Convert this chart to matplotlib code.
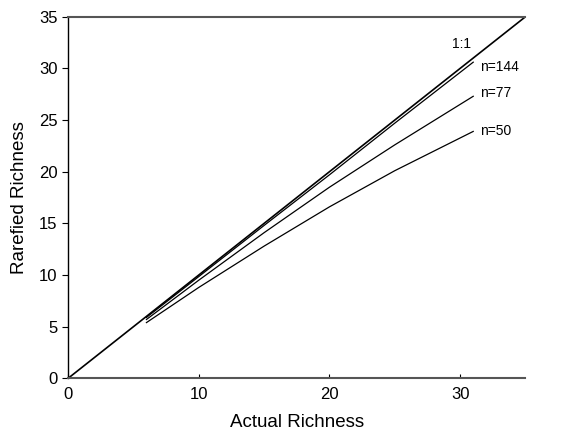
import matplotlib
matplotlib.use('Agg')
import matplotlib.pyplot as plt

matplotlib.rcParams['font.family'] = ['Liberation Sans', 'DejaVu Sans']

one_x = [0, 35]
one_y = [0, 35]
n144_x = [6, 10, 15, 20, 25, 31]
n144_y = [5.9, 9.85, 14.8, 19.7, 24.7, 30.6]
n77_x = [6, 10, 15, 20, 25, 31]
n77_y = [5.7, 9.5, 14.1, 18.5, 22.6, 27.3]
n50_x = [6, 10, 15, 20, 25, 31]
n50_y = [5.4, 8.8, 12.8, 16.6, 20.1, 23.9]

labels = ['1:1', 'n=144', 'n=77', 'n=50']
label_pos = [(29.4, 32.4), (31.5, 30.1), (31.5, 27.6), (31.5, 23.9)]

fig = plt.figure(figsize=(5.74, 4.4), dpi=100)
ax = fig.add_axes([0.1185, 0.14, 0.797, 0.822])

ax.plot(one_x, one_y, color='black', lw=1.2)
ax.plot(n144_x, n144_y, color='black', lw=0.9)
ax.plot(n77_x, n77_y, color='black', lw=0.9)
ax.plot(n50_x, n50_y, color='black', lw=0.9)

for lab, (x, y) in zip(labels, label_pos):
    ax.text(x, y, lab, fontsize=10, ha='left', va='center')

ax.set_xlim(0, 35)
ax.set_ylim(0, 35)
ax.set_xticks([0, 10, 20, 30])
ax.set_yticks([0, 5, 10, 15, 20, 25, 30, 35])

ax.spines['right'].set_visible(False)
ax.spines['top'].set_color('#555555')
ax.spines['top'].set_linewidth(1.5)
ax.spines['bottom'].set_color('#555555')
ax.spines['bottom'].set_linewidth(1.5)
ax.spines['left'].set_linewidth(1.0)

ax.tick_params(axis='y', direction='out', length=4, labelsize=12)
ax.tick_params(axis='x', direction='in', length=3, labelsize=12, pad=6)

ax.set_xlabel('Actual Richness', fontsize=13.5, labelpad=9)
ax.set_ylabel('Rarefied Richness', fontsize=13.5, labelpad=8)

fig.savefig('out.png', dpi=100)
